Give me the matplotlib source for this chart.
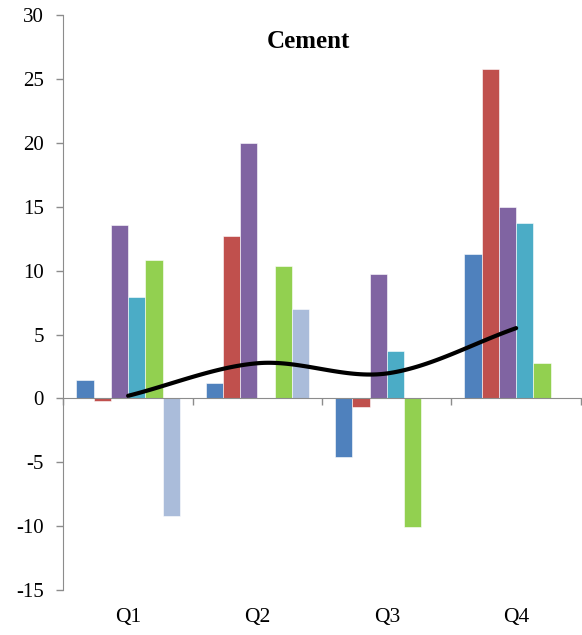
import matplotlib.pyplot as plt
import numpy as np

quarters = ["Q1", "Q2", "Q3", "Q4"]
# six bar series per quarter (nan = no bar)
series_1 = [1.4, 1.2, -4.6, 11.3]
series_2 = [-0.2, 12.7, -0.65, 25.8]
series_3 = [13.6, 20.0, 9.7, 15.0]
series_4 = [7.9, np.nan, 3.7, 13.7]
series_5 = [10.8, 10.4, -10.1, 2.8]
series_6 = [-9.2, 7.0, np.nan, np.nan]
trend = [0.2, 2.75, 1.95, 5.5]

colors = ["#4F81BD", "#C0504D", "#8064A2", "#4BACC6", "#92D050", "#AABCDA"]


def smooth(xs, ys, n=40):
    # Excel-like smoothed line (Catmull-Rom through the points)
    xs = np.asarray(xs, float)
    ys = np.asarray(ys, float)
    px = np.concatenate([[2 * xs[0] - xs[1]], xs, [2 * xs[-1] - xs[-2]]])
    py = np.concatenate([[2 * ys[0] - ys[1]], ys, [2 * ys[-1] - ys[-2]]])
    out_x, out_y = [], []
    t = np.linspace(0, 1, n)
    for i in range(1, len(px) - 2):
        for p, o in ((px, out_x), (py, out_y)):
            p0, p1, p2, p3 = p[i - 1], p[i], p[i + 1], p[i + 2]
            seg = 0.5 * ((2 * p1) + (-p0 + p2) * t
                         + (2 * p0 - 5 * p1 + 4 * p2 - p3) * t ** 2
                         + (-p0 + 3 * p1 - 3 * p2 + p3) * t ** 3)
            o.extend(seg)
    return np.array(out_x), np.array(out_y)


plt.rcParams['font.family'] = ['Liberation Serif', 'DejaVu Serif']
plt.rcParams['axes.unicode_minus'] = False

fig = plt.figure(figsize=(5.82, 6.35), dpi=100)
ax = fig.add_axes([0.109, 0.071, 0.889, 0.905])

all_series = [series_1, series_2, series_3, series_4, series_5, series_6]
x = np.arange(len(quarters))
bw = 1.0 / 7.5
for i, s in enumerate(all_series):
    ax.bar(x + (i - 2.5) * bw, s, bw, color=colors[i], edgecolor="white", linewidth=0.4, zorder=2)

lx, ly = smooth(x, trend)
ax.plot(lx, ly, color="black", linewidth=3.0, solid_capstyle="round", zorder=3)

ax.set_xlim(-0.5, 3.5)
ax.set_ylim(-15, 30)
ax.set_yticks(np.arange(-15, 31, 5))
ax.tick_params(axis="y", direction="out", length=5, width=1, color="#8c8c8c", labelsize=15, pad=9)

# x axis line at zero with boundary ticks
ax.spines['bottom'].set_position(('data', 0))
ax.spines['bottom'].set_color("#8c8c8c")
ax.spines['left'].set_color("#8c8c8c")
ax.spines['top'].set_visible(False)
ax.spines['right'].set_visible(False)
ax.set_xticks(np.arange(-0.5, 3.6, 1.0))
ax.set_xticklabels([])
ax.tick_params(axis="x", direction="out", length=5, width=1, color="#8c8c8c")

sec = ax.secondary_xaxis(0.0)
sec.set_xticks(x)
sec.set_xticklabels(quarters)
sec.tick_params(length=0, labelsize=15.5, pad=13)
sec.spines['bottom'].set_visible(False)

ax.text(0.473, 0.943, "Cement", transform=ax.transAxes, ha="center", va="baseline",
        fontsize=18, fontweight="bold")

fig.savefig("out.png")
